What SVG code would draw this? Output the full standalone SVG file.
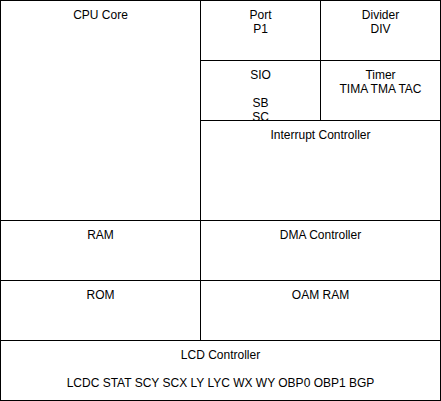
<svg xmlns="http://www.w3.org/2000/svg" width="441" height="401" viewBox="0 0 441 401">
  <style>
    .box { fill: #ffffff; stroke: #000000; stroke-width: 1; }
    .lbl { font-family: "Liberation Sans", Arial, Helvetica, sans-serif; font-size: 12px; fill: #000000; text-anchor: middle; }
  </style>
  <rect x="0" y="0" width="441" height="401" fill="#ffffff"/>
  <g id="cpu-core">
    <rect class="box" x="0.5" y="0.5" width="200" height="220"/>
    <text class="lbl" x="100.5" y="18.5">CPU Core</text>
  </g>
  <g id="port">
    <rect class="box" x="200.5" y="0.5" width="120" height="60"/>
    <text class="lbl" x="260.5" y="18.5">Port</text>
    <text class="lbl" x="260.5" y="32.5">P1</text>
  </g>
  <g id="divider">
    <rect class="box" x="320.5" y="0.5" width="120" height="60"/>
    <text class="lbl" x="380.5" y="18.5">Divider</text>
    <text class="lbl" x="380.5" y="32.5">DIV</text>
  </g>
  <g id="sio">
    <rect class="box" x="200.5" y="60.5" width="120" height="60"/>
    <text class="lbl" x="260.5" y="78.5">SIO</text>
    <text class="lbl" x="260.5" y="106.5">SB</text>
    <text class="lbl" x="260.5" y="120.5">SC</text>
  </g>
  <g id="timer">
    <rect class="box" x="320.5" y="60.5" width="120" height="60"/>
    <text class="lbl" x="380.5" y="78.5">Timer</text>
    <text class="lbl" x="380.5" y="92.5">TIMA TMA TAC</text>
  </g>
  <g id="interrupt-controller">
    <rect class="box" x="200.5" y="120.5" width="240" height="100"/>
    <text class="lbl" x="320.5" y="138.5">Interrupt Controller</text>
  </g>
  <g id="ram">
    <rect class="box" x="0.5" y="220.5" width="200" height="60"/>
    <text class="lbl" x="100.5" y="238.5">RAM</text>
  </g>
  <g id="dma-controller">
    <rect class="box" x="200.5" y="220.5" width="240" height="60"/>
    <text class="lbl" x="320.5" y="238.5">DMA Controller</text>
  </g>
  <g id="rom">
    <rect class="box" x="0.5" y="280.5" width="200" height="60"/>
    <text class="lbl" x="100.5" y="298.5">ROM</text>
  </g>
  <g id="oam-ram">
    <rect class="box" x="200.5" y="280.5" width="240" height="60"/>
    <text class="lbl" x="320.5" y="298.5">OAM RAM</text>
  </g>
  <g id="lcd-controller">
    <rect class="box" x="0.5" y="340.5" width="440" height="60"/>
    <text class="lbl" x="220.5" y="358.5">LCD Controller</text>
    <text class="lbl" x="220.5" y="386.5">LCDC STAT SCY SCX LY LYC WX WY OBP0 OBP1 BGP</text>
  </g>
  <g id="connectors"/>
</svg>
